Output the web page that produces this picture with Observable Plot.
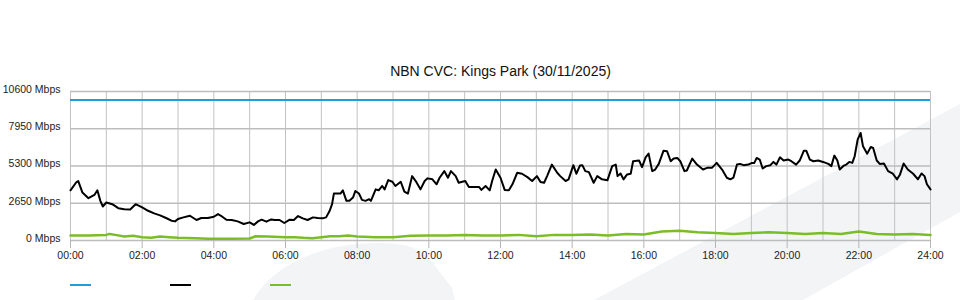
<!DOCTYPE html>
<html>
<head>
<meta charset="utf-8">
<script src="https://cdn.jsdelivr.net/npm/d3@7"></script>
<script src="https://cdn.jsdelivr.net/npm/@observablehq/plot@0.6"></script>
<style>
  html, body { margin: 0; padding: 0; background: #fff; }
  #wrap { position: relative; width: 960px; height: 300px; overflow: hidden; font-family: "Liberation Sans", Arial, sans-serif; }
  #bg { position: absolute; left: 0; top: 0; z-index: 0; }
  #chart { position: relative; z-index: 1; }
  #legend { position: relative; z-index: 1; height: 30px; }
  #legend span { position: absolute; top: 14px; width: 21px; height: 2px; }
</style>
</head>
<body>
<div id="wrap">
  <svg id="bg" width="960" height="300">
    <path d="M594,300 L960,104 L960,212 L803,300 Z" fill="#f3f4f6"/>
    <path d="M253,300 C275,262 325,243 378,243 C405,243 420,247 432,262 L452,288 L455,300 Z" fill="#f3f4f6"/>
  </svg>
  <div id="chart"></div>
  <div id="legend"></div>
</div>
<script>
// ---- data ----
const chartTitle = "NBN CVC: Kings Park (30/11/2025)";
const xTickLabels = ["00:00","02:00","04:00","06:00","08:00","10:00","12:00","14:00","16:00","18:00","20:00","22:00","24:00"];
const yTicks = [0, 2650, 5300, 7950, 10600];
const seriesNames = ["Capacity", "Download", "Upload"];
const seriesColors = ["#1e9fdc", "#000000", "#7bbd26"];

const capacityMbps = 10000;

const downloadMinutes = [
  0,10,13,20,30,40,45,50,54,60,70,80,90,100,109,120,130,140,150,160,169,175,180,189,200,211,219,230,
  240,247,252,261,270,280,290,300,307,314,320,328,336,342,350,358,367,374,381,389,397,406,414,422,428,434,438,441,448,452,456,462,467,473,
  477,483,488,494,500,503,511,516,522,526,532,539,544,553,559,565,572,578,586,593,598,606,613,618,626,632,637,645,650,656,661,667,675,684,688,695,702,706,712,
  720,727,734,740,748,756,765,773,781,787,793,798,806,815,820,829,834,842,847,853,857,862,868,876,882,890,899,907,913,916,921,926,932,938,942,952,
  957,963,968,974,979,985,993,999,1005,1010,1016,1021,1028,1032,1041,1049,1059,1066,1074,1082,1091,1099,1105,1110,1116,1121,1127,1135,1141,1145,1149,1154,1159,1165,1172,1177,1182,1188,
  1194,1202,1207,1215,1221,1228,1232,1238,1244,1252,1260,1269,1274,1279,1284,1288,1295,1299,1304,1309,1313,1318,1323,1327,1334,1340,1344,1350,1355,1362,1369,1377,1384,1389,1395,1402,1411,1419,1425,1430,1434,1440
];
const downloadMbps = [
  3570,4160,4230,3410,3010,3240,3570,2820,2420,2700,2585,2300,2230,2210,2585,2350,2115,1930,1790,1600,1410,1360,1530,1645,1760,1460,1600,1600,
  1690,1880,1760,1480,1460,1360,1175,1290,1105,1360,1480,1340,1500,1460,1460,1245,1480,1460,1740,1575,1460,1645,1600,1575,1645,2115,2585,3340,3340,3340,3570,2820,2820,3055,
  3525,3340,2890,2820,2940,2820,3640,3570,3880,3640,4300,4180,3880,4180,3480,3340,4580,4230,3640,4230,4420,4350,4000,4465,4935,4465,4935,4580,4110,4180,4230,3810,3810,3810,3600,3880,3570,4230,5050,
  4465,3600,3570,4000,4820,4750,4510,4230,4580,4160,4110,4580,5400,4820,4580,4230,4350,5360,4750,5330,5360,4935,4865,4110,4580,4350,4280,5290,5400,4580,4770,4350,4700,4750,5640,5690,
  5220,5920,6180,4935,5050,5450,6390,6345,5640,5830,5875,5640,4935,4980,5830,5400,5050,5170,5170,5520,5050,4465,4350,4465,5400,5450,5360,5400,5520,5520,5875,5760,5120,5290,5360,5590,5400,5920,
  5690,5760,5640,5400,5690,6390,6390,5760,5640,5690,5590,5450,5290,6040,5690,5050,5330,5400,5590,5520,5990,7170,7650,6700,6180,6650,6580,5690,5450,5480,4935,4750,4350,4700,5480,5050,4750,4350,4770,4580,4000,3640
];

const uploadMinutes = [0,30,60,65,75,90,105,120,135,150,165,180,210,230,240,270,300,310,330,360,375,390,405,420,435,450,465,480,510,540,570,600,630,660,690,720,750,780,810,840,870,900,930,960,990,1020,1050,1080,1110,1140,1170,1200,1230,1260,1290,1320,1350,1380,1410,1440];
const uploadMbps = [350,350,400,470,400,280,330,235,190,280,235,190,165,120,120,120,140,300,280,235,235,190,165,235,300,300,350,280,235,235,330,350,350,400,350,350,400,300,400,400,420,350,470,420,635,700,590,540,470,540,590,540,470,540,470,635,470,420,470,400];

// ---- tables built from the arrays ----
const toMinutes = s => +s.slice(0, 2) * 60 + +s.slice(3, 5);
const xTickMinutes = xTickLabels.map(toMinutes);
const hourGrid = d3.range(xTickMinutes[0], xTickMinutes[xTickMinutes.length - 1] + 1, 60);
const download = downloadMinutes.map((m, i) => ({m, v: downloadMbps[i]}));
const upload = uploadMinutes.map((m, i) => ({m, v: uploadMbps[i]}));

const chart = Plot.plot({
  width: 960,
  height: 270,
  marginLeft: 70,
  marginRight: 30,
  marginTop: 91,
  marginBottom: 30,
  style: {background: "transparent", fontFamily: "'Liberation Sans', Arial, sans-serif", fontSize: "10.5px", color: "#222"},
  x: {type: "linear", domain: [xTickMinutes[0], xTickMinutes[xTickMinutes.length - 1]]},
  y: {type: "linear", domain: [yTicks[0], yTicks[yTicks.length - 1]]},
  marks: [
    Plot.ruleX(hourGrid, {stroke: "#c2c2c2", strokeWidth: 1}),
    Plot.ruleY(yTicks, {stroke: "#bdbdbd", strokeWidth: 1.5}),
    Plot.axisX({ticks: xTickMinutes, tickFormat: d => xTickLabels[xTickMinutes.indexOf(d)], tickSize: 8, tickPadding: 3, stroke: "#b5b5b5", label: null}),
    Plot.axisY({ticks: yTicks, tickFormat: d => `${d} Mbps`, tickSize: 0, tickPadding: 10, dy: -2, label: null}),
    Plot.ruleY([capacityMbps], {stroke: seriesColors[0], strokeWidth: 2}),
    Plot.line(upload, {x: "m", y: "v", stroke: seriesColors[2], strokeWidth: 2.5}),
    Plot.line(download, {x: "m", y: "v", stroke: seriesColors[1], strokeWidth: 2, strokeLinejoin: "round"}),
    Plot.text([chartTitle], {frameAnchor: "top", lineAnchor: "middle", dy: -20, fontSize: 14, fill: "#111"})
  ]
});
document.getElementById("chart").appendChild(chart);

const legend = document.getElementById("legend");
seriesNames.forEach((name, i) => {
  const s = document.createElement("span");
  s.style.left = (70 + i * 100) + "px";
  s.style.background = seriesColors[i];
  s.title = name;
  legend.appendChild(s);
});
</script>
</body>
</html>
